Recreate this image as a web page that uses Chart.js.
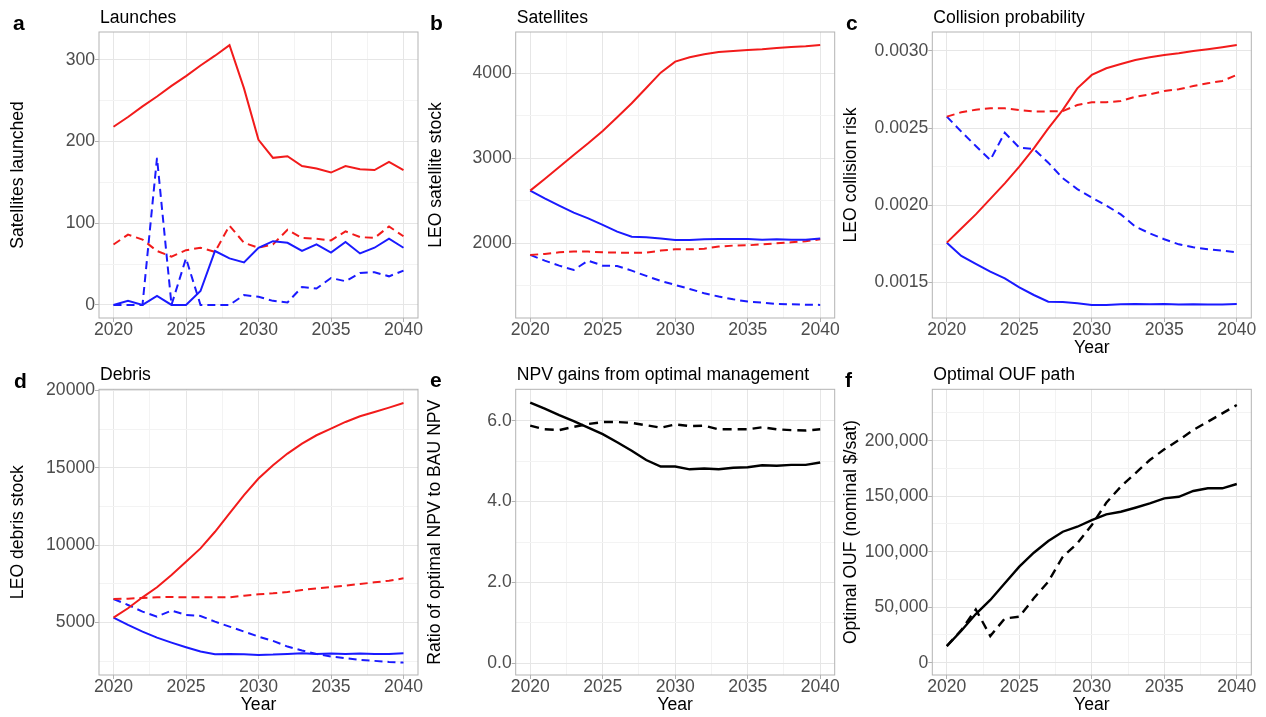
<!DOCTYPE html>
<html>
<head>
<meta charset="utf-8">
<script src="https://cdn.jsdelivr.net/npm/chart.js@4"></script>
<style>
  html, body { margin: 0; padding: 0; background: #fff; overflow: hidden; }
  body { width: 1266px; height: 717px; position: relative; font-family: "Liberation Sans", Arial, sans-serif; }
  canvas { position: absolute; }
  .ptitle { position: absolute; font-size: 17.6px; line-height: 1; color: #000; white-space: nowrap; }
  .letter { position: absolute; font-size: 21px; line-height: 1; font-weight: bold; color: #000; }
</style>
</head>
<body>
<script>
// years on the x axis
const years = [2020, 2021, 2022, 2023, 2024, 2025, 2026, 2027, 2028, 2029, 2030,
               2031, 2032, 2033, 2034, 2035, 2036, 2037, 2038, 2039, 2040];
const xTicks = [2020, 2022.5, 2025, 2027.5, 2030, 2032.5, 2035, 2037.5, 2040];

// a - launches
const launchesBau    = [218, 230, 243, 255, 268, 280, 293, 305, 318, 265, 202, 180, 182, 170, 167, 162, 170, 166, 165, 175, 165];
const launchesOpt    = [0, 5, 0, 11, 0, 0, 17, 66, 57, 52, 70, 78, 76, 66, 74, 64, 77, 63, 70, 81, 70];
const launchesBauAlt = [74, 86, 80, 66, 59, 67, 70, 65, 97, 76, 70, 74, 92, 82, 81, 79, 90, 83, 82, 96, 84];
const launchesOptAlt = [0, 0, 0, 180, 0, 57, 0, 0, 0, 12, 10, 5, 3, 22, 20, 33, 29, 39, 40, 35, 42];

// b - satellites
const satsBau    = [2620, 2757, 2898, 3039, 3176, 3322, 3482, 3647, 3827, 4008, 4137, 4188, 4224, 4251, 4263, 4275, 4282, 4298, 4310, 4318, 4333];
const satsOpt    = [2620, 2529, 2443, 2361, 2294, 2216, 2137, 2078, 2071, 2055, 2039, 2039, 2047, 2051, 2051, 2051, 2043, 2047, 2043, 2043, 2055];
const satsBauAlt = [1863, 1875, 1894, 1902, 1902, 1894, 1890, 1890, 1890, 1914, 1929, 1929, 1937, 1961, 1973, 1976, 1988, 2000, 2012, 2024, 2047];
const satsOptAlt = [1863, 1796, 1737, 1686, 1796, 1737, 1733, 1678, 1616, 1557, 1510, 1463, 1412, 1373, 1341, 1314, 1302, 1286, 1282, 1278, 1275];

// c - collision probability
const riskBau    = [0.001759, 0.001850, 0.001942, 0.002042, 0.002143, 0.002251, 0.002370, 0.002499, 0.002619, 0.002758, 0.002845,
                    0.002888, 0.002916, 0.002942, 0.002959, 0.002974, 0.002985, 0.003000, 0.003011, 0.003024, 0.003039];
const riskOpt    = [0.001759, 0.001673, 0.001621, 0.001571, 0.001528, 0.001470, 0.001420, 0.001377, 0.001375, 0.001366, 0.001355,
                    0.001355, 0.001360, 0.001362, 0.001360, 0.001362, 0.001358, 0.001360, 0.001358, 0.001358, 0.001362];
const riskBauAlt = [0.002575, 0.002603, 0.002620, 0.002629, 0.002629, 0.002618, 0.002609, 0.002609, 0.002611, 0.002650, 0.002668,
                    0.002668, 0.002676, 0.002704, 0.002719, 0.002741, 0.002752, 0.002773, 0.002791, 0.002806, 0.002845];
const riskOptAlt = [0.002575, 0.002478, 0.002385, 0.002294, 0.002471, 0.002374, 0.002365, 0.002277, 0.002176, 0.002106, 0.002050,
                    0.001999, 0.001942, 0.001863, 0.001819, 0.001781, 0.001748, 0.001729, 0.001716, 0.001707, 0.001696];

// d - debris
const debrisBau    = [5322, 5924, 6633, 7278, 8073, 8932, 9792, 10866, 12048, 13230, 14304, 15163, 15915, 16560, 17097, 17527, 17956, 18322, 18601, 18880, 19181];
const debrisOpt    = [5322, 4850, 4420, 4033, 3711, 3410, 3130, 2959, 2980, 2959, 2916, 2937, 2980, 3023, 2980, 3002, 2980, 3002, 2980, 2980, 3023];
const debrisBauAlt = [6526, 6547, 6590, 6633, 6655, 6633, 6633, 6633, 6633, 6740, 6826, 6891, 6977, 7106, 7213, 7299, 7385, 7493, 7600, 7707, 7858];
const debrisOptAlt = [6526, 6139, 5709, 5387, 5774, 5494, 5430, 5064, 4742, 4420, 4097, 3818, 3453, 3195, 2980, 2808, 2701, 2593, 2529, 2464, 2421];

// e - NPV ratio
const npvRatio    = [6.45, 6.30, 6.14, 5.99, 5.83, 5.67, 5.47, 5.26, 5.03, 4.87, 4.87, 4.80, 4.82, 4.80, 4.84, 4.85, 4.90, 4.89, 4.91, 4.91, 4.97];
const npvRatioAlt = [5.88, 5.79, 5.77, 5.85, 5.92, 5.97, 5.97, 5.95, 5.89, 5.83, 5.91, 5.87, 5.88, 5.79, 5.79, 5.79, 5.84, 5.79, 5.77, 5.76, 5.79];

// f - optimal OUF
const oufPath    = [15000, 28800, 43800, 56500, 71500, 86500, 99100, 109600, 118000, 122500, 128500,
                    133600, 136000, 139600, 143500, 148000, 149500, 154700, 157100, 157100, 161000];
const oufPathAlt = [15000, 29400, 48000, 24000, 39900, 41400, 58000, 73000, 95500, 107500, 124000,
                    144100, 158600, 170600, 182600, 192200, 200600, 209600, 217100, 224600, 232100];

const RED = '#f21b1b', BLUE = '#1a1aff', BLACK = '#000000';
const FONT_SIZE = 17.6;

Chart.defaults.font.family = '"Liberation Sans", Arial, sans-serif';
Chart.defaults.animation = false;

function pts(vals) {
  return years.map((yr, i) => ({ x: yr, y: vals[i] }));
}

function line(vals, color, dashed) {
  const black = color === BLACK;
  return {
    data: pts(vals),
    borderColor: color,
    borderWidth: black ? 2.4 : 2,
    borderDash: dashed ? (black ? [9, 6] : [8, 5]) : [],
    pointRadius: 0,
    tension: 0,
    fill: false
  };
}

const intFmt = v => String(Math.round(v));
const panels = [
  { letter: 'a', lx: 13, ly: 12, title: 'Launches', x0: 8, y0: 0, L: 99, T: 32, R: 418, B: 318,
    yMin: -16, yMax: 334, minor: 50, major: 100, fmt: intFmt, yTitle: 'Satellites launched', year: false,
    sets: [line(launchesBau, RED, false), line(launchesOpt, BLUE, false), line(launchesBauAlt, RED, true), line(launchesOptAlt, BLUE, true)] },
  { letter: 'b', lx: 430, ly: 12, title: 'Satellites', x0: 426, y0: 0, L: 515.7, T: 32, R: 834.7, B: 318,
    yMin: 1121, yMax: 4486, minor: 500, major: 1000, fmt: intFmt, yTitle: 'LEO satellite stock', year: false,
    sets: [line(satsBau, RED, false), line(satsOpt, BLUE, false), line(satsBauAlt, RED, true), line(satsOptAlt, BLUE, true)] },
  { letter: 'c', lx: 846, ly: 12, title: 'Collision probability', x0: 841, y0: 0, L: 932.3, T: 32, R: 1251.3, B: 318,
    yMin: 0.001271, yMax: 0.003123, minor: 0.00025, major: 0.0005, fmt: v => v.toFixed(4), yTitle: 'LEO collision risk', year: true,
    sets: [line(riskBau, RED, false), line(riskOpt, BLUE, false), line(riskBauAlt, RED, true), line(riskOptAlt, BLUE, true)] },
  { letter: 'd', lx: 14, ly: 370, title: 'Debris', x0: 8, y0: 357, L: 99, T: 389.3, R: 418, B: 675,
    yMin: 1617, yMax: 20065, minor: 2500, major: 5000, fmt: intFmt, yTitle: 'LEO debris stock', year: true,
    sets: [line(debrisBau, RED, false), line(debrisOpt, BLUE, false), line(debrisBauAlt, RED, true), line(debrisOptAlt, BLUE, true)] },
  { letter: 'e', lx: 430, ly: 369, title: 'NPV gains from optimal management', x0: 425, y0: 357, L: 515.7, T: 389.3, R: 834.7, B: 675,
    yMin: -0.29, yMax: 6.78, minor: 1, major: 2, fmt: v => v.toFixed(1), yTitle: 'Ratio of optimal NPV to BAU NPV', year: true,
    sets: [line(npvRatio, BLACK, false), line(npvRatioAlt, BLACK, true)] },
  { letter: 'f', lx: 845, ly: 369, title: 'Optimal OUF path', x0: 841, y0: 357, L: 932.3, T: 389.3, R: 1251.3, B: 675,
    yMin: -11080, yMax: 246300, minor: 25000, major: 50000, fmt: v => Math.round(v).toLocaleString('en-US'), yTitle: 'Optimal OUF (nominal $/sat)', year: true,
    sets: [line(oufPath, BLACK, false), line(oufPathAlt, BLACK, true)] }
];

// grey frame round the plot panel
const panelBorder = {
  id: 'panelBorder',
  afterDatasetsDraw(chart) {
    const a = chart.chartArea, ctx = chart.ctx;
    ctx.save();
    ctx.strokeStyle = '#b3b3b3';
    ctx.lineWidth = 1;
    ctx.strokeRect(a.left, a.top, a.right - a.left, a.bottom - a.top);
    ctx.restore();
  }
};

const CANVAS_H = 359;
const near = (v, step) => Math.abs(v / step - Math.round(v / step)) < 1e-6;

panels.forEach(p => {
  const w = Math.round(p.R - p.x0 + 24);
  const cv = document.createElement('canvas');
  cv.width = w; cv.height = CANVAS_H;
  cv.style.left = p.x0 + 'px'; cv.style.top = p.y0 + 'px';
  cv.style.width = w + 'px'; cv.style.height = CANVAS_H + 'px';
  document.body.appendChild(cv);

  const t = document.createElement('div');
  t.className = 'ptitle';
  t.textContent = p.title;
  t.style.left = (p.L + 1) + 'px';
  t.style.top = (p.T - 23.5) + 'px';
  document.body.appendChild(t);

  const l = document.createElement('div');
  l.className = 'letter';
  l.textContent = p.letter;
  l.style.left = p.lx + 'px';
  l.style.top = p.ly + 'px';
  document.body.appendChild(l);

  const yWidth = p.L - p.x0;
  const xHeight = CANVAS_H - (p.B - p.y0);

  new Chart(cv, {
    type: 'line',
    data: { datasets: p.sets },
    options: {
      responsive: false,
      layout: { padding: { left: 0, top: p.T - p.y0, right: w - (p.R - p.x0), bottom: 0 } },
      plugins: { legend: { display: false }, tooltip: { enabled: false } },
      scales: {
        x: {
          type: 'linear', min: 2019, max: 2041,
          afterBuildTicks: s => { s.ticks = xTicks.map(v => ({ value: v })); },
          afterFit: s => { s.height = xHeight; s.paddingLeft = 0; s.paddingRight = 0; },
          ticks: {
            autoSkip: false, maxRotation: 0, padding: -1,
            color: '#4d4d4d', font: { size: FONT_SIZE, lineHeight: 1 },
            callback: v => (v % 5 === 0 ? String(v) : '')
          },
          grid: {
            color: c => (c.tick && c.tick.value % 5 === 0 ? '#e6e6e6' : '#f3f3f3'),
            tickColor: c => (c.tick && c.tick.value % 5 === 0 ? '#b3b3b3' : 'rgba(0,0,0,0)'),
            tickLength: 4, lineWidth: 1
          },
          border: { display: false },
          title: { display: p.year, text: 'Year', color: '#000', font: { size: FONT_SIZE }, padding: { top: 0, bottom: 0 } }
        },
        y: {
          min: p.yMin, max: p.yMax,
          afterBuildTicks: s => {
            const out = [];
            const k0 = Math.ceil(p.yMin / p.minor - 1e-9), k1 = Math.floor(p.yMax / p.minor + 1e-9);
            for (let k = k0; k <= k1; k++) out.push({ value: +(k * p.minor).toPrecision(10) });
            s.ticks = out;
          },
          afterFit: s => { s.width = yWidth; s.paddingTop = 0; s.paddingBottom = 0; },
          ticks: {
            autoSkip: false, padding: 0,
            color: '#4d4d4d', font: { size: FONT_SIZE, lineHeight: 1 },
            callback: v => (near(v, p.major) ? p.fmt(v) : '')
          },
          grid: {
            color: c => (c.tick && near(c.tick.value, p.major) ? '#e6e6e6' : '#f3f3f3'),
            tickColor: c => (c.tick && near(c.tick.value, p.major) ? '#b3b3b3' : 'rgba(0,0,0,0)'),
            tickLength: 4, lineWidth: 1
          },
          border: { display: false },
          title: { display: true, text: p.yTitle, color: '#000', font: { size: FONT_SIZE }, padding: { top: 0, bottom: 0 } }
        }
      }
    },
    plugins: [panelBorder]
  });
});
</script>
</body>
</html>
